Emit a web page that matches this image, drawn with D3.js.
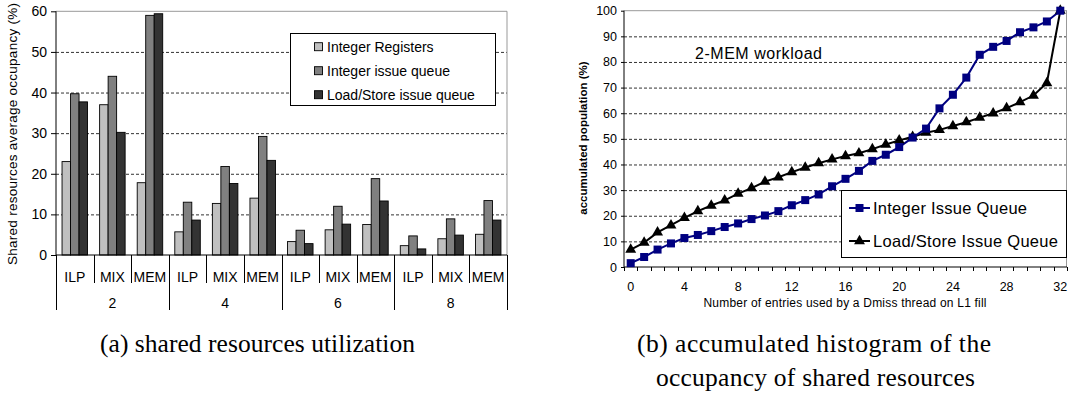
<!DOCTYPE html>
<html lang="en">
    <head>
        <style>
            body { margin: 0; background: #fff; }
            svg { font-family: "Liberation Sans", Arial, sans-serif; }
            .grid { stroke: #333; stroke-dasharray: 3,2; stroke-width: 1; }
            .caption { font-family: "Liberation Serif", serif; font-size: 25.5px; fill: #000; }
        </style>
        <script src="https://d3js.org/d3.v7.min.js"></script>
        <title>Shared resources</title>
    </head>
    <body>
        <div id="chart"></div>
        <script>
            // (a) average occupancy per workload
            var threads = ["2", "4", "6", "8"];
            var workloads = ["ILP", "MIX", "MEM"];
            var resources = ["Integer Registers", "Integer issue queue", "Load/Store issue queue"];
            var intRegisters = [23, 37, 17.8, 5.7, 12.7, 14, 3.3, 6.2, 7.5, 2.3, 4, 5.1];
            var intIssueQueue = [39.7, 44, 59, 13, 21.8, 29.2, 6.1, 12, 18.8, 4.7, 8.9, 13.4];
            var lsIssueQueue = [37.7, 30.2, 59.4, 8.6, 17.6, 23.3, 2.8, 7.6, 13.3, 1.5, 4.9, 8.6];
            var barTicks = [0, 10, 20, 30, 40, 50, 60];

            // (b) accumulated histogram, 2-MEM workload
            var entries = d3.range(0, 33);
            var intQueueAcc = [1.5, 3.9, 6.8, 9.2, 11.3, 12.5, 14, 15.6, 17, 18.7, 20.1, 21.8, 24.1, 26.1, 28.3, 31.5,
                34.4, 37.5, 41.4, 43.8, 46.8, 50.5, 54, 61.9, 67.2, 73.9, 82.8, 85.9, 88.2, 91.6, 93.5, 95.8, 100];
            var lsQueueAcc = [6.8, 9.5, 13.5, 16.3, 19.2, 21.8, 24, 26, 28.6, 30.8, 33.3, 35, 37, 38.8, 40.5, 42,
                43.3, 44.4, 46, 47.8, 49.4, 50.8, 52.4, 53.5, 55, 56.5, 58.3, 60, 62, 64.3, 66.9, 71.8, 100];
            var lineTicks = [0, 10, 20, 30, 40, 50, 60, 70, 80, 90, 100];
            var lineLabels = [0, 4, 8, 12, 16, 20, 24, 28, 32];

            var svg = d3.select("#chart")
                .append("svg")
                    .attr("width", 1068)
                    .attr("height", 394);

            // ---------- left chart ----------
            var barColors = ["#c0c0c0", "#808080", "#333333"];
            var barSeries = [intRegisters, intIssueQueue, lsIssueQueue];
            var cats = [];
            threads.forEach(function(t) {
                workloads.forEach(function(w) { cats.push(t + "-" + w); });
            });

            var L = {left: 56, right: 507, top: 11.3, bottom: 255};
            var x0 = d3.scaleBand().domain(cats).range([L.left, L.right]).padding(0);
            var bw = x0.bandwidth();
            var x1 = d3.scaleBand().domain(resources).range([(bw - 25.5) / 2, (bw + 25.5) / 2]).padding(0);
            var yL = d3.scaleLinear().domain([0, 60]).range([L.bottom, L.top]);

            var left = svg.append("g");

            left.selectAll(".gridL")
                .data(barTicks.filter(function(d) { return d > 0 && d < 60; }))
                .enter().append("line")
                    .attr("class", "grid")
                    .attr("x1", L.left).attr("x2", L.right)
                    .attr("y1", function(d) { return yL(d) + 0.5; })
                    .attr("y2", function(d) { return yL(d) + 0.5; });

            left.append("line")
                .attr("x1", L.left).attr("x2", L.right)
                .attr("y1", yL(60)).attr("y2", yL(60))
                .attr("stroke", "#999");
            left.append("line")
                .attr("x1", L.right).attr("x2", L.right)
                .attr("y1", yL(60)).attr("y2", L.bottom)
                .attr("stroke", "#999");

            barSeries.forEach(function(vals, s) {
                left.selectAll(".bar" + s)
                    .data(vals)
                    .enter().append("rect")
                        .attr("x", function(d, i) { return x0(cats[i]) + x1(resources[s]); })
                        .attr("y", function(d) { return yL(d); })
                        .attr("width", x1.bandwidth())
                        .attr("height", function(d) { return L.bottom - yL(d); })
                        .attr("fill", barColors[s])
                        .attr("stroke", "#000")
                        .attr("stroke-width", 0.9);
            });

            var yAxisL = left.append("g")
                .attr("transform", "translate(" + L.left + ",0)")
                .call(d3.axisLeft(yL).tickValues(barTicks).tickSize(5).tickPadding(4));
            yAxisL.selectAll("text").attr("font-size", 14).attr("font-family", "Liberation Sans, Arial");
            yAxisL.select(".domain").attr("d", "M0," + L.top + "V" + L.bottom);

            left.append("line")
                .attr("x1", L.left).attr("x2", L.right)
                .attr("y1", L.bottom).attr("y2", L.bottom)
                .attr("stroke", "#000");

            // category separators
            d3.range(0, cats.length + 1).forEach(function(i) {
                var xx = Math.round(L.left + i * bw) + 0.5;
                left.append("line")
                    .attr("x1", xx).attr("x2", xx)
                    .attr("y1", L.bottom)
                    .attr("y2", i % 3 === 0 ? 310 : 283)
                    .attr("stroke", "#000");
            });

            left.selectAll(".wl")
                .data(cats)
                .enter().append("text")
                    .attr("x", function(d) { return x0(d) + bw / 2; })
                    .attr("y", 281.5)
                    .attr("text-anchor", "middle")
                    .attr("font-size", 14)
                    .text(function(d) { return d.split("-")[1]; });

            left.selectAll(".th")
                .data(threads)
                .enter().append("text")
                    .attr("x", function(d) { return x0(d + "-MIX") + bw / 2; })
                    .attr("y", 308)
                    .attr("text-anchor", "middle")
                    .attr("font-size", 14)
                    .text(function(d) { return d; });

            left.append("text")
                .attr("transform", "translate(17,134) rotate(-90)")
                .attr("text-anchor", "middle")
                .attr("font-size", 13.5)
                .attr("textLength", 262)
                .text("Shared resources average occupancy (%)");

            var legL = left.append("g");
            legL.append("rect")
                .attr("x", 290.5).attr("y", 33.5)
                .attr("width", 205).attr("height", 72)
                .attr("fill", "#fff").attr("stroke", "#000");
            resources.forEach(function(r, i) {
                var cy = 46.7 + i * 24;
                legL.append("rect")
                    .attr("x", 314.5).attr("y", cy - 4)
                    .attr("width", 8).attr("height", 8)
                    .attr("fill", barColors[i]).attr("stroke", "#000").attr("stroke-width", 0.9);
                legL.append("text")
                    .attr("x", 327).attr("y", cy + 5)
                    .attr("font-size", 14)
                    .text(r);
            });

            // ---------- right chart ----------
            var R = {left: 624, right: 1067, top: 10.7, bottom: 267};
            var xR = d3.scaleBand().domain(entries).range([R.left, R.right]).padding(0);
            var yR = d3.scaleLinear().domain([0, 100]).range([R.bottom, R.top]);
            var cx = function(d) { return xR(d) + xR.bandwidth() / 2; };

            var right = svg.append("g");

            right.selectAll(".gridR")
                .data(lineTicks.filter(function(d) { return d > 0 && d < 100; }))
                .enter().append("line")
                    .attr("class", "grid")
                    .attr("x1", R.left).attr("x2", R.right)
                    .attr("y1", function(d) { return yR(d) + 0.5; })
                    .attr("y2", function(d) { return yR(d) + 0.5; });

            right.append("line")
                .attr("x1", R.left).attr("x2", R.right)
                .attr("y1", yR(100)).attr("y2", yR(100))
                .attr("stroke", "#999");
            right.append("line")
                .attr("x1", R.right - 0.5).attr("x2", R.right - 0.5)
                .attr("y1", yR(100)).attr("y2", R.bottom)
                .attr("stroke", "#999");

            var yAxisR = right.append("g")
                .attr("transform", "translate(" + R.left + ",0)")
                .call(d3.axisLeft(yR).tickValues(lineTicks).tickSize(3).tickPadding(4));
            yAxisR.selectAll("text").attr("font-size", 12.5).attr("font-family", "Liberation Sans, Arial");
            yAxisR.select(".domain").attr("d", "M0," + R.top + "V" + R.bottom);

            right.append("line")
                .attr("x1", R.left).attr("x2", R.right)
                .attr("y1", R.bottom).attr("y2", R.bottom)
                .attr("stroke", "#000");
            d3.range(0, entries.length + 1).forEach(function(i) {
                var xx = Math.round(R.left + i * xR.bandwidth()) + 0.5;
                right.append("line")
                    .attr("x1", xx).attr("x2", xx)
                    .attr("y1", R.bottom).attr("y2", R.bottom + 4)
                    .attr("stroke", "#000");
            });
            right.selectAll(".xl")
                .data(lineLabels)
                .enter().append("text")
                    .attr("x", cx)
                    .attr("y", 290.5)
                    .attr("text-anchor", "middle")
                    .attr("font-size", 12.5)
                    .text(function(d) { return d; });

            right.append("text")
                .attr("x", 845).attr("y", 307)
                .attr("text-anchor", "middle")
                .attr("font-size", 12)
                .attr("textLength", 283)
                .text("Number of entries used by a Dmiss thread on L1 fill");

            right.append("text")
                .attr("transform", "translate(587,138) rotate(-90)")
                .attr("text-anchor", "middle")
                .attr("font-size", 11.5)
                .attr("font-weight", "bold")
                .text("accumulated population (%)");

            right.append("text")
                .attr("x", 695).attr("y", 59)
                .attr("font-size", 16)
                .attr("textLength", 127)
                .text("2-MEM workload");

            var line = d3.line()
                .x(function(d, i) { return cx(entries[i]); })
                .y(function(d) { return yR(d); });

            right.append("path")
                .datum(lsQueueAcc)
                .attr("fill", "none").attr("stroke", "#000").attr("stroke-width", 2)
                .attr("d", line);
            right.append("path")
                .datum(intQueueAcc)
                .attr("fill", "none").attr("stroke", "#000080").attr("stroke-width", 2)
                .attr("d", line);

            var tri = d3.symbol().type(d3.symbolTriangle).size(52);
            right.selectAll(".tri")
                .data(lsQueueAcc)
                .enter().append("path")
                    .attr("d", tri)
                    .attr("transform", function(d, i) { return "translate(" + cx(entries[i]) + "," + yR(d) + ")"; })
                    .attr("fill", "#000");
            right.selectAll(".sq")
                .data(intQueueAcc)
                .enter().append("rect")
                    .attr("x", function(d, i) { return cx(entries[i]) - 4; })
                    .attr("y", function(d) { return yR(d) - 4; })
                    .attr("width", 8).attr("height", 8)
                    .attr("fill", "#000080");

            var legR = right.append("g");
            legR.append("rect")
                .attr("x", 841.5).attr("y", 190.5)
                .attr("width", 225).attr("height", 67)
                .attr("fill", "#fff").attr("stroke", "#000");
            legR.append("line")
                .attr("x1", 849).attr("x2", 870).attr("y1", 208).attr("y2", 208)
                .attr("stroke", "#000080").attr("stroke-width", 2);
            legR.append("rect")
                .attr("x", 855.5).attr("y", 204).attr("width", 8).attr("height", 8)
                .attr("fill", "#000080");
            legR.append("text")
                .attr("x", 873).attr("y", 213.5)
                .attr("font-size", 16.5)
                .attr("textLength", 154)
                .text("Integer Issue Queue");
            legR.append("line")
                .attr("x1", 849).attr("x2", 870).attr("y1", 241).attr("y2", 241)
                .attr("stroke", "#000").attr("stroke-width", 2);
            legR.append("path")
                .attr("d", tri)
                .attr("transform", "translate(859.5,241)")
                .attr("fill", "#000");
            legR.append("text")
                .attr("x", 873).attr("y", 246.5)
                .attr("font-size", 16.5)
                .attr("textLength", 185)
                .text("Load/Store Issue Queue");

            // ---------- captions ----------
            svg.append("text").attr("class", "caption")
                .attr("x", 100).attr("y", 352)
                .attr("textLength", 315)
                .text("(a) shared resources utilization");
            svg.append("text").attr("class", "caption")
                .attr("x", 637).attr("y", 352)
                .attr("textLength", 354)
                .text("(b) accumulated histogram of the");
            svg.append("text").attr("class", "caption")
                .attr("x", 656).attr("y", 386)
                .attr("textLength", 319)
                .text("occupancy of shared resources");
        </script>
    </body>
</html>
